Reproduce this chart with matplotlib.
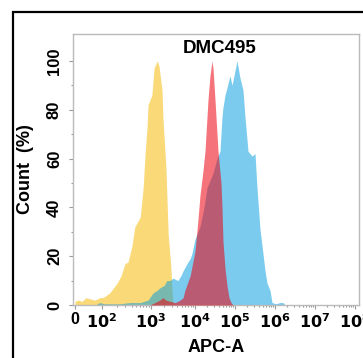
import numpy as np
import matplotlib
matplotlib.use('Agg')
import matplotlib.pyplot as plt
from matplotlib.patches import Rectangle

plt.rcParams['font.family'] = ['Liberation Sans', 'DejaVu Sans']
plt.rcParams['font.weight'] = 'bold'
plt.rcParams['axes.labelweight'] = 'bold'

# histograms, x in log10 intensity, y in % of max
yellow_log = [0.0, 0.22, 0.52, 0.81, 1.11, 1.48, 1.85, 2.0, 2.06, 2.16, 2.31, 2.39, 2.47,
              2.53, 2.61, 2.67, 2.78, 2.84, 2.88, 2.92, 2.94, 2.98, 3.02, 3.07, 3.14,
              3.18, 3.25, 3.27, 3.34, 3.39, 3.45, 3.48, 3.50, 3.55]
yellow_cnt = [1.5, 2, 1.5, 3, 2.5, 2, 3, 3, 3.5, 5, 9, 12, 17,
              17.5, 24, 32, 36, 48, 62, 73, 82, 84, 86, 97, 100,
              98, 88, 77, 56, 29, 16, 5, 0.5, 0]

blue_log = [1.48, 1.85, 2.04, 2.37, 2.57, 2.78, 2.94, 3.05, 3.14, 3.20, 3.30, 3.36, 3.43,
            3.50, 3.61, 3.68, 3.73, 3.82, 3.89, 3.93, 4.0, 4.125, 4.225, 4.30, 4.375,
            4.45, 4.55, 4.625, 4.675, 4.70, 4.75, 4.80, 4.875, 4.925, 5.0, 5.05, 5.125,
            5.2, 5.25, 5.325, 5.375, 5.425, 5.5, 5.55, 5.625, 5.70, 5.75, 5.80, 5.875,
            5.925, 6.025, 6.125, 6.2, 6.25]
blue_cnt = [0, 1, 0.5, 0.5, 1, 1, 2, 5, 6, 7, 8, 10, 10,
            11, 10, 12, 14, 17, 19, 21, 27, 32, 40, 48, 51,
            54, 60, 63, 77, 81, 86, 89, 94, 90, 96, 100, 93,
            88, 77, 63, 62, 61, 62, 48, 31, 21, 14, 9, 6,
            1, 0.5, 1, 1, 0]

red_log = [2.98, 3.09, 3.20, 3.27, 3.34, 3.43, 3.55, 3.66, 3.73, 3.77, 3.89, 4.0, 4.075,
           4.125, 4.2, 4.25, 4.325, 4.375, 4.425, 4.45, 4.5, 4.575, 4.65, 4.675, 4.70,
           4.75, 4.80, 4.85, 4.90, 4.95]
red_cnt = [0, 1, 2, 3, 2, 1.5, 1, 2, 3, 6, 12, 22, 35,
           45, 55, 63, 84, 94, 100, 97, 84, 63, 50, 40, 26,
           15, 8, 3, 1, 0]

tick_log = [0, 2, 3, 4, 5, 6, 7, 8]
tick_lab = ['0', '$\\mathbf{10^2}$', '$\\mathbf{10^3}$', '$\\mathbf{10^4}$',
            '$\\mathbf{10^5}$', '$\\mathbf{10^6}$', '$\\mathbf{10^7}$', '$\\mathbf{10^8}$']

# display scale (biex-like): log anchors -> screen position
anchor_log = [-0.15, 0, 2, 3, 4, 8.1]
anchor_pos = [0, 2, 29, 78, 122, 286]


def fwd(x):
    return np.interp(x, anchor_log, anchor_pos)


def inv(p):
    return np.interp(p, anchor_pos, anchor_log)


fig = plt.figure(figsize=(3.63, 3.58), dpi=100)
ax = fig.add_axes([73 / 363, 1 - 305 / 358, 286 / 363, 271 / 358])
ax.set_xscale('function', functions=(fwd, inv))

ax.fill_between(yellow_log, yellow_cnt, color='#f9d978', lw=0, zorder=1)
ax.fill_between(blue_log, blue_cnt, color=(0.0, 0.61, 0.88), alpha=0.52, lw=0, zorder=2)
ax.fill_between(red_log, red_cnt, color=(0.93, 0.0, 0.05), alpha=0.55, lw=0, zorder=3)

ax.set_xlim(-0.15, 8.1)
ax.set_ylim(0, 111)

ax.set_xticks(tick_log)
ax.set_xticklabels(tick_lab, fontsize=11.5, fontweight='bold')
minor = [np.log10(k * 10.0 ** n) for n in range(2, 8) for k in range(2, 10)]
ax.set_xticks(minor, minor=True)
ax.set_yticks([0, 20, 40, 60, 80, 100])
ax.set_yticks([10, 30, 50, 70, 90], minor=True)
for lab in ax.get_yticklabels():
    lab.set_rotation(90)
    lab.set_va('center')
    lab.set_fontsize(12)
    lab.set_fontweight('bold')

ax.tick_params(which='both', color='#999999', width=0.8)
ax.tick_params(which='major', length=3)
ax.tick_params(axis='x', which='major', pad=2)
ax.tick_params(axis='y', which='major', pad=5)
ax.tick_params(which='minor', length=1.5)
for s in ax.spines.values():
    s.set_color('#bbbbbb')
    s.set_linewidth(1)

ax.set_xlabel('APC-A', fontsize=13, fontweight='bold', labelpad=6)
ax.set_ylabel('Count  (%)', fontsize=13, fontweight='bold', labelpad=9)
ax.text(0.514, 0.945, 'DMC495', transform=ax.transAxes, ha='center', va='center',
        fontsize=13.5, fontweight='bold')

# outer frame
fig.patches.append(Rectangle((13 / 363, -0.2), 1.2, 1.2 - 12 / 358, transform=fig.transFigure,
                             fill=False, edgecolor='black', linewidth=1.6, figure=fig))

fig.savefig('out.png', dpi=100)
